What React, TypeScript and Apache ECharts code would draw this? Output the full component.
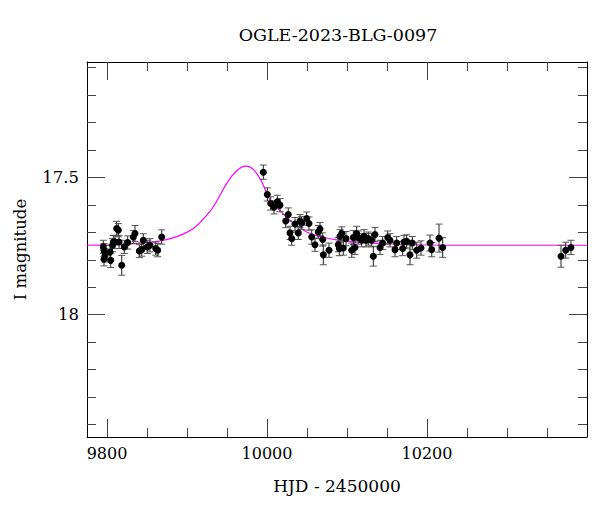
import React, { useEffect, useRef } from "react";
import * as echarts from "echarts";

const FONT = "DejaVu Serif";

const TITLE = "OGLE-2023-BLG-0097";
const X_NAME = "HJD - 2450000";
const Y_NAME = "I magnitude";

const X_MIN = 9775;
const X_MAX = 10400;
const Y_MIN = 17.08;
const Y_MAX = 18.445;

const xMajorTicks = [9800, 10000, 10200];
const xMinorTicks = [9850, 9900, 9950, 10050, 10100, 10150, 10250, 10300, 10350];
const yMajorTicks = [17.5, 18];
const yMinorTicks = [17.1, 17.2, 17.3, 17.4, 17.6, 17.7, 17.8, 17.9, 18.1, 18.2, 18.3, 18.4];

// Observed photometry
const obsHJD = [
  9795.4, 9796.25, 9797.5, 9796.25, 9804.6, 9803.75, 9806.9, 9807.9, 9812.1, 9814.1,
  9810, 9815, 9818.4, 9821.6, 9825.9, 9832.9, 9835, 9840.4, 9843.4, 9845.4,
  9850.4, 9853.75, 9860.9, 9863.4, 9868.4,
  9995.4, 10000.4, 10004.6, 10008.75, 10012.9, 10016.25, 10023.4, 10026.6, 10028.75, 10030.9,
  10035, 10039.1, 10041.25, 10043.4, 10049.6, 10052.5, 10055.9, 10060, 10064.1, 10066.25,
  10069.6, 10070.4, 10077.5, 10089.1, 10091.25, 10093.4, 10090.4, 10095.4, 10098.75, 10105.9,
  10107.9, 10110, 10112.1, 10114.1, 10118.4, 10121.25, 10123.75, 10126.6, 10130.9, 10132.9,
  10135, 10141.25, 10144.6, 10150.9, 10153.75, 10160, 10162.1, 10169.6, 10171.25, 10174.6,
  10178.75, 10181.6, 10187.1, 10192.5, 10203.75, 10205.9, 10215, 10219.6,
  10367.5, 10373.4, 10380,
];
const obsMag = [
  17.753, 17.765, 17.784, 17.798, 17.802, 17.772, 17.747, 17.735, 17.686, 17.692,
  17.735, 17.735, 17.82, 17.753, 17.737, 17.717, 17.704, 17.768, 17.763, 17.729,
  17.753, 17.747, 17.759, 17.765, 17.717,
  17.481, 17.562, 17.595, 17.609, 17.589, 17.601, 17.659, 17.635, 17.702, 17.723,
  17.67, 17.702, 17.659, 17.666, 17.65, 17.668, 17.717, 17.745, 17.699, 17.688,
  17.726, 17.782, 17.765, 17.745, 17.714, 17.704, 17.759, 17.757, 17.723, 17.765,
  17.719, 17.755, 17.704, 17.719, 17.729, 17.714, 17.729, 17.723, 17.729, 17.787,
  17.708, 17.755, 17.739, 17.719, 17.729, 17.763, 17.739, 17.759, 17.735, 17.733,
  17.782, 17.739, 17.765, 17.757, 17.739, 17.763, 17.721, 17.755,
  17.787, 17.765, 17.755,
];
const obsErr = [
  0.024, 0.024, 0.024, 0.024, 0.026, 0.024, 0.024, 0.024, 0.026, 0.024,
  0.024, 0.024, 0.036, 0.024, 0.024, 0.024, 0.029, 0.024, 0.024, 0.024,
  0.024, 0.024, 0.024, 0.024, 0.026,
  0.026, 0.024, 0.024, 0.024, 0.024, 0.024, 0.024, 0.024, 0.024, 0.024,
  0.024, 0.024, 0.024, 0.024, 0.024, 0.024, 0.026, 0.024, 0.024, 0.024,
  0.024, 0.036, 0.026, 0.026, 0.024, 0.024, 0.026, 0.026, 0.026, 0.026,
  0.026, 0.026, 0.026, 0.024, 0.024, 0.024, 0.024, 0.024, 0.024, 0.036,
  0.026, 0.026, 0.024, 0.024, 0.024, 0.026, 0.024, 0.026, 0.024, 0.024,
  0.036, 0.024, 0.029, 0.026, 0.029, 0.026, 0.051, 0.036,
  0.04, 0.029, 0.026,
];

// Model light curve
const modelHJD = [
  9775, 9816.25, 9853.75, 9866.25, 9878.75, 9891.25, 9907.9, 9924.6, 9932.9, 9941.25, 9949.6,
  9962.1, 9973.4, 9982.9, 9993.4, 10003.75, 10016.25, 10028.75, 10049.6, 10070, 10091.25,
  10132.5, 10216.25, 10400,
];
const modelMag = [
  17.747, 17.745, 17.736, 17.731, 17.723, 17.711, 17.686, 17.638, 17.607, 17.565, 17.522,
  17.476, 17.459, 17.471, 17.516, 17.583, 17.621, 17.656, 17.699, 17.718, 17.729,
  17.739, 17.747, 17.747,
];

export default function App() {
  const ref = useRef<HTMLDivElement>(null);

  useEffect(() => {
    if (!ref.current) return;
    const chart = echarts.init(ref.current, null, { renderer: "svg" });

    const tickColor = "#444";
    const plain = (v: number) => String(v);
    const mkX = (pos: "top" | "bottom", major: boolean, showLine: boolean, extra: any = {}) => ({
      type: "value",
      gridIndex: 0,
      position: pos,
      min: X_MIN,
      max: X_MAX,
      axisLine: { show: showLine, onZero: false, lineStyle: { color: "#000", width: 1 } },
      axisTick: {
        show: true,
        inside: true,
        length: major ? 18 : 9,
        customValues: major ? xMajorTicks : xMinorTicks,
        lineStyle: { color: tickColor, width: 1 },
      },
      axisLabel: { show: false },
      splitLine: { show: false },
      ...extra,
    });
    const mkY = (pos: "left" | "right", major: boolean, showLine: boolean, extra: any = {}) => ({
      type: "value",
      gridIndex: 0,
      position: pos,
      inverse: true,
      min: Y_MIN,
      max: Y_MAX,
      axisLine: { show: showLine, onZero: false, lineStyle: { color: "#000", width: 1 } },
      axisTick: {
        show: true,
        inside: true,
        length: major ? 18 : 9,
        customValues: major ? yMajorTicks : yMinorTicks,
        lineStyle: { color: tickColor, width: 1 },
      },
      axisLabel: { show: false },
      splitLine: { show: false },
      ...extra,
    });

    const obsData = obsHJD.map((x, i) => [x, obsMag[i], obsErr[i]]);
    const modelData = modelHJD.map((x, i) => [x, modelMag[i]]);

    chart.setOption({
      animation: false,
      backgroundColor: "#fff",
      grid: { left: 87, right: 13, top: 62, bottom: 75, containLabel: false, outerBoundsMode: "none" },
      graphic: [
        {
          type: "text",
          x: 338,
          y: 35,
          style: {
            text: TITLE,
            font: `17.5px '${FONT}'`,
            fill: "#000",
            textAlign: "center",
            textVerticalAlign: "middle",
          },
        },
      ],
      xAxis: [
        mkX("bottom", true, true, {
          axisLabel: {
            show: true,
            customValues: xMajorTicks,
            formatter: plain,
            fontFamily: FONT,
            fontSize: 16,
            color: "#000",
            margin: 8,
          },
          name: X_NAME,
          nameLocation: "middle",
          nameGap: 40,
          nameTextStyle: { fontFamily: FONT, fontSize: 17, color: "#000" },
        }),
        mkX("bottom", false, false),
        mkX("top", true, true),
        mkX("top", false, false),
      ],
      yAxis: [
        mkY("left", true, true, {
          axisLabel: {
            show: true,
            customValues: yMajorTicks,
            formatter: plain,
            fontFamily: FONT,
            fontSize: 16.5,
            color: "#000",
            margin: 8,
          },
          name: Y_NAME,
          nameLocation: "middle",
          nameGap: 58,
          nameTextStyle: { fontFamily: FONT, fontSize: 16.5, color: "#000" },
        }),
        mkY("left", false, false),
        mkY("right", true, true),
        mkY("right", false, false),
      ],
      series: [
        {
          type: "line",
          xAxisIndex: 0,
          yAxisIndex: 0,
          data: modelData,
          smooth: 0.4,
          showSymbol: false,
          symbol: "none",
          lineStyle: { color: "#ff00ff", width: 1.2 },
          z: 2,
        },
        {
          type: "custom",
          xAxisIndex: 0,
          yAxisIndex: 0,
          data: obsData,
          z: 3,
          renderItem: (params: any, api: any) => {
            const x = api.value(0);
            const y = api.value(1);
            const e = api.value(2);
            const top = api.coord([x, y - e]);
            const bot = api.coord([x, y + e]);
            const hw = 3.5;
            const st = { stroke: "#555", lineWidth: 1 };
            return {
              type: "group",
              children: [
                { type: "line", shape: { x1: top[0], y1: top[1], x2: bot[0], y2: bot[1] }, style: { stroke: "#222", lineWidth: 1 } },
                { type: "line", shape: { x1: top[0] - hw, y1: top[1], x2: top[0] + hw, y2: top[1] }, style: st },
                { type: "line", shape: { x1: bot[0] - hw, y1: bot[1], x2: bot[0] + hw, y2: bot[1] }, style: st },
              ],
            };
          },
        },
        {
          type: "scatter",
          xAxisIndex: 0,
          yAxisIndex: 0,
          data: obsData.map((d) => [d[0], d[1]]),
          symbol: "circle",
          symbolSize: 7,
          itemStyle: { color: "#000", opacity: 1 },
          z: 4,
        },
      ],
    });

    return () => chart.dispose();
  }, []);

  return (
    <div
      ref={ref}
      style={{ position: "fixed", left: 0, top: 0, width: 600, height: 512, background: "#fff" }}
    />
  );
}
